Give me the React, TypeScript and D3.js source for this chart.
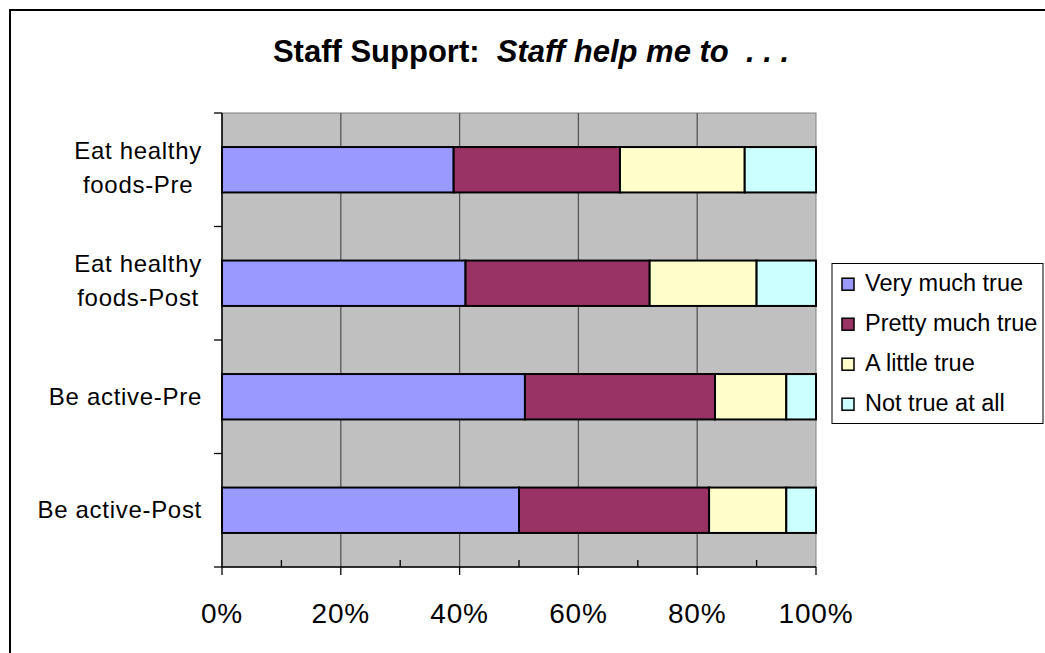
import React from "react";
import * as d3 from "d3";

const categories: string[][] = [
  ["Eat healthy", "foods-Pre"],
  ["Eat healthy", "foods-Post"],
  ["Be active-Pre"],
  ["Be active-Post"],
];
const seriesNames = ["Very much true", "Pretty much true", "A little true", "Not true at all"];
const veryMuchTrue = [39, 41, 51, 50];
const prettyMuchTrue = [28, 31, 32, 32];
const aLittleTrue = [21, 18, 12, 13];
const notTrueAtAll = [12, 10, 5, 5];
const xTicks = [0, 20, 40, 60, 80, 100];
const colors = ["#9999FF", "#993366", "#FFFFCC", "#CCFFFF"];

const W = 1045;
const H = 653;
const plot = { left: 222, right: 816, top: 113, bottom: 567 };
const FONT = "'Liberation Sans', Arial, Helvetica, sans-serif";

function measure(text: string, font: string): number {
  if (typeof document === "undefined") return text.length * 12;
  const c = document.createElement("canvas");
  const ctx = c.getContext("2d");
  if (!ctx) return text.length * 12;
  ctx.font = font;
  return ctx.measureText(text).width;
}

export default function App() {
  const rows = categories.map((c, i) => ({
    key: i,
    s0: veryMuchTrue[i],
    s1: prettyMuchTrue[i],
    s2: aLittleTrue[i],
    s3: notTrueAtAll[i],
  }));
  const stack = d3.stack<any>().keys(["s0", "s1", "s2", "s3"]);
  const stacked = stack(rows);

  const x = d3.scaleLinear().domain([0, 100]).range([plot.left, plot.right]);
  const y = d3
    .scaleBand<number>()
    .domain(categories.map((_, i) => i))
    .range([plot.top, plot.bottom])
    .paddingInner(0.6)
    .paddingOuter(0.3);
  const yTicks = d3.range(categories.length + 1).map(
    (i) => plot.top + (i * (plot.bottom - plot.top)) / categories.length
  );
  const minorTicks = d3.range(10, 100, 20);

  const labelFontSize = 24;
  const labelFont = `${labelFontSize}px ${FONT}`;
  const labelRight = 202;
  const letterSp = 0.7;

  return (
    <svg
      width={W}
      height={H}
      style={{ position: "absolute", left: 0, top: 0, display: "block", background: "#fff" }}
    >
      <rect x={0} y={0} width={W} height={H} fill="#fff" />
      {/* outer chart border */}
      <rect x={10} y={10} width={W + 20} height={H + 20} fill="none" stroke="#000" strokeWidth={2} />

      {/* title */}
      <text
        x={531}
        y={62}
        textAnchor="middle"
        fontFamily={FONT}
        fontSize={31}
        fontWeight="bold"
        style={{ whiteSpace: "pre" }}
      >
        <tspan>{"Staff Support:  "}</tspan>
        <tspan fontStyle="italic">{"Staff help me to  . . ."}</tspan>
      </text>

      {/* plot area */}
      <rect
        x={plot.left}
        y={plot.top}
        width={plot.right - plot.left}
        height={plot.bottom - plot.top}
        fill="#C0C0C0"
        stroke="#808080"
        strokeWidth={1}
      />
      {/* gridlines */}
      {xTicks.slice(1, -1).map((t) => (
        <line
          key={"g" + t}
          x1={x(t)}
          x2={x(t)}
          y1={plot.top}
          y2={plot.bottom}
          stroke="#555"
          strokeWidth={1.3}
        />
      ))}

      {/* bars */}
      {stacked.map((layer, si) =>
        layer.map((d, ci) => (
          <rect
            key={`b${si}-${ci}`}
            x={x(d[0])}
            y={y(ci)!}
            width={x(d[1]) - x(d[0])}
            height={y.bandwidth()}
            fill={colors[si]}
            stroke="#000"
            strokeWidth={2}
          />
        ))
      )}

      {/* y axis */}
      <line x1={plot.left} x2={plot.left} y1={plot.top} y2={plot.bottom} stroke="#000" strokeWidth={1.5} />
      {yTicks.map((t, i) => (
        <line key={"yt" + i} x1={plot.left - 8} x2={plot.left} y1={t} y2={t} stroke="#000" strokeWidth={1.3} />
      ))}

      {/* x axis */}
      <line x1={plot.left} x2={plot.right} y1={plot.bottom} y2={plot.bottom} stroke="#000" strokeWidth={1.5} />
      {xTicks.map((t) => (
        <line key={"xt" + t} x1={x(t)} x2={x(t)} y1={plot.bottom} y2={plot.bottom + 8} stroke="#000" strokeWidth={1.3} />
      ))}
      {minorTicks.map((t) => (
        <line key={"mt" + t} x1={x(t)} x2={x(t)} y1={plot.bottom - 7} y2={plot.bottom} stroke="#000" strokeWidth={1.3} />
      ))}
      {xTicks.map((t) => (
        <text
          key={"xl" + t}
          x={x(t)}
          y={623}
          textAnchor="middle"
          fontFamily={FONT}
          fontSize={28}
          letterSpacing={0.8}
          fill="#000"
        >
          {t + "%"}
        </text>
      ))}

      {/* category labels */}
      {categories.map((lines, i) => {
        const cy = y(i)! + y.bandwidth() / 2;
        const maxW = d3.max(lines, (l) => measure(l, labelFont) + l.length * letterSp) || 0;
        const cx = labelRight - maxW / 2;
        const baselines =
          lines.length === 1 ? [cy + 8] : [cy - 11, cy + 23];
        return lines.map((l, li) => (
          <text
            key={`cl${i}-${li}`}
            x={cx}
            y={baselines[li]}
            textAnchor="middle"
            fontFamily={FONT}
            fontSize={labelFontSize}
            letterSpacing={letterSp}
            fill="#000"
          >
            {l}
          </text>
        ));
      })}

      {/* legend */}
      <rect x={832} y={263.5} width={211} height={160} fill="#fff" stroke="#000" strokeWidth={1} />
      {seriesNames.map((s, i) => {
        const base = 290.7 + i * 40;
        return (
          <g key={"lg" + i}>
            <rect x={842} y={base - 12.5} width={12} height={12} fill={colors[i]} stroke="#000" strokeWidth={1.5} />
            <text x={865} y={base} fontFamily={FONT} fontSize={23.5} fill="#000">
              {s}
            </text>
          </g>
        );
      })}
    </svg>
  );
}
